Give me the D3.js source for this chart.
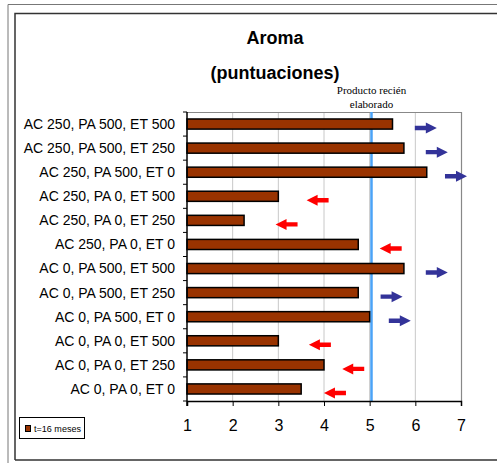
<!DOCTYPE html>
<html>
<head>
<meta charset="utf-8">
<script src="https://cdnjs.cloudflare.com/ajax/libs/d3/7.8.5/d3.min.js"></script>
<style>
  body { margin: 0; background: #fff; }
  svg { display: block; }
</style>
</head>
<body>
<svg width="497" height="463"></svg>
<script>
// data
var categories = [
  "AC 250, PA 500, ET 500", "AC 250, PA 500, ET 250", "AC 250, PA 500, ET 0",
  "AC 250, PA 0, ET 500", "AC 250, PA 0, ET 250", "AC 250, PA 0, ET 0",
  "AC 0, PA 500, ET 500", "AC 0, PA 500, ET 250", "AC 0, PA 500, ET 0",
  "AC 0, PA 0, ET 500", "AC 0, PA 0, ET 250", "AC 0, PA 0, ET 0"
];
var scores = [5.5, 5.75, 6.25, 3.0, 2.25, 4.75, 5.75, 4.75, 5.0, 3.0, 4.0, 3.5];
// trend arrows drawn next to each bar: centre (score units) and direction
var arrowAt  = [6.23, 6.47, 6.89, 3.86, 3.18, 5.46, 6.47, 5.48, 5.66, 3.91, 4.64, 4.24];
var arrowDir = [1, 1, 1, -1, -1, -1, 1, 1, 1, -1, -1, -1];
var freshValue = 5.04;
var xTicks = [1, 2, 3, 4, 5, 6, 7];
var seriesName = "t=16 meses";

var svg = d3.select("svg");

// frame
svg.append("path").attr("d", "M8,463 V4.5 H497").attr("fill", "none")
  .attr("stroke", "#777").attr("stroke-width", 1);
svg.append("path").attr("d", "M15,460 V13.5 H497 M15,460 H497").attr("fill", "none")
  .attr("stroke", "#333").attr("stroke-width", 1.5);

var pLeft = 187, pRight = 461, pTop = 112, pBottom = 401;

var x = d3.scaleLinear().domain([1, 7]).range([pLeft, pRight]);
var y = d3.scaleBand().domain(categories).range([pTop, pBottom]).paddingInner(0.58).paddingOuter(0.29);
var yb = d3.scaleBand().domain(categories).range([pTop, pBottom]);

// title
svg.append("text").attr("x", 275).attr("y", 44).attr("text-anchor", "middle")
  .style("font", "bold 18px 'Liberation Sans', Arial, sans-serif").text("Aroma");
svg.append("text").attr("x", 275).attr("y", 79).attr("text-anchor", "middle")
  .style("font", "bold 18px 'Liberation Sans', Arial, sans-serif").text("(puntuaciones)");

// gridlines
svg.append("g").selectAll("line").data([2, 3, 4, 5, 6]).enter().append("line")
  .attr("x1", function(d) { return x(d); }).attr("x2", function(d) { return x(d); })
  .attr("y1", pTop).attr("y2", pBottom).attr("stroke", "#c8c8c8").attr("stroke-width", 1);
svg.append("path").attr("d", "M" + pLeft + "," + (pTop + 0.5) + " H" + (pRight + 0.5) + " V" + pBottom)
  .attr("fill", "none").attr("stroke", "#888").attr("stroke-width", 1.2);

// fresh product reference line
svg.append("line").attr("x1", x(freshValue)).attr("x2", x(freshValue))
  .attr("y1", pTop).attr("y2", pBottom).attr("stroke", "#4aa3f7").attr("stroke-width", 2.5);
svg.append("text").attr("x", x(freshValue)).attr("y", 94).attr("text-anchor", "middle")
  .style("font", "11px 'Liberation Serif', 'Times New Roman', serif").text("Producto recién");
svg.append("text").attr("x", x(freshValue)).attr("y", 108).attr("text-anchor", "middle")
  .style("font", "11px 'Liberation Serif', 'Times New Roman', serif").text("elaborado");

// bars
svg.append("g").selectAll("rect").data(scores).enter().append("rect")
  .attr("x", x(1))
  .attr("y", function(d, i) { return y(categories[i]); })
  .attr("width", function(d) { return x(d) - x(1); })
  .attr("height", y.bandwidth())
  .attr("fill", "#993300").attr("stroke", "#000").attr("stroke-width", 1.5);

// arrows
var arrowShape = "M-11,-2.2 H0 V-5.5 L11,0 L0,5.5 V2.2 H-11 Z";
svg.append("g").selectAll("path").data(arrowAt).enter().append("path")
  .attr("d", arrowShape)
  .attr("transform", function(d, i) {
    var cy = yb(categories[i]) + yb.bandwidth() / 2 + 4;
    return "translate(" + x(d) + "," + cy + ") scale(" + arrowDir[i] + ",1)";
  })
  .attr("fill", function(d, i) { return arrowDir[i] > 0 ? "#333399" : "#ff0000"; });

// x axis
var xAxis = svg.append("g").attr("transform", "translate(0," + pBottom + ")")
  .call(d3.axisBottom(x).tickValues(xTicks).tickFormat(d3.format("d")).tickSize(5).tickPadding(14));
xAxis.select(".domain").attr("stroke", "#000").attr("stroke-width", 1.5);
xAxis.selectAll(".tick line").attr("stroke", "#000");
xAxis.selectAll("text").style("font", "16px 'Liberation Sans', Arial, sans-serif").attr("fill", "#000");

// y axis: ticks on category boundaries
var yAxis = svg.append("g").attr("transform", "translate(" + pLeft + ",0)");
yAxis.append("line").attr("x1", 0).attr("x2", 0).attr("y1", pTop).attr("y2", pBottom + 5)
  .attr("stroke", "#000").attr("stroke-width", 1.5);
yAxis.selectAll(".bt").data(d3.range(categories.length + 1)).enter().append("line")
  .attr("x1", -4).attr("x2", 0)
  .attr("y1", function(i) { return pTop + i * yb.step(); })
  .attr("y2", function(i) { return pTop + i * yb.step(); })
  .attr("stroke", "#000");
yAxis.selectAll("text").data(categories).enter().append("text")
  .attr("x", -12)
  .attr("y", function(d) { return yb(d) + yb.bandwidth() / 2; })
  .attr("dy", "0.35em").attr("text-anchor", "end")
  .style("font", "14px 'Liberation Sans', Arial, sans-serif")
  .text(function(d) { return d; });

// legend
var lg = svg.append("g");
lg.append("rect").attr("x", 19.5).attr("y", 417.5).attr("width", 65).attr("height", 21)
  .attr("fill", "#fff").attr("stroke", "#000");
lg.append("rect").attr("x", 25.5).attr("y", 425.5).attr("width", 5).attr("height", 6)
  .attr("fill", "#993300").attr("stroke", "#000");
lg.append("text").attr("x", 34).attr("y", 432)
  .style("font", "9.5px 'Liberation Sans', Arial, sans-serif")
  .attr("textLength", 47).attr("lengthAdjust", "spacingAndGlyphs")
  .text(seriesName);
</script>
</body>
</html>
